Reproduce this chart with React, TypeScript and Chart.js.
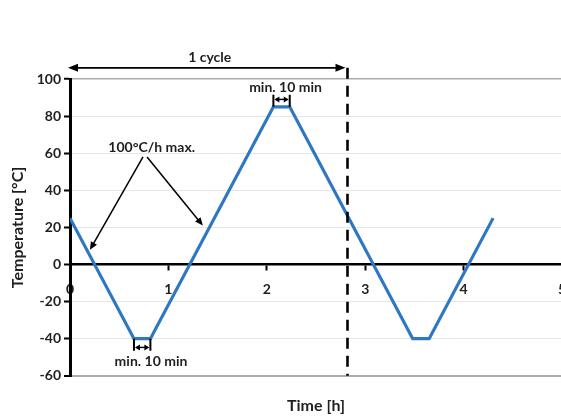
import { useEffect, useRef } from 'react';
import { Chart, registerables } from 'chart.js';

Chart.register(...registerables);

// Temperature profile (time in hours, temperature in °C)
const timeHours = [0, 0.65, 0.817, 2.067, 2.233, 3.483, 3.65, 4.3];
const temperatures = [25, -40, -40, 85, 85, -40, -40, 25];

// Axis ranges / ticks
const xRange = [0, 5];
const yRange = [-60, 100];
const xStep = 1;
const yStep = 20;

// Annotations (data units)
const cycleEnd = 2.82;
const cycleArrowTemp = 106;
const cycleLabel = '1 cycle';
const cycleLabelPos = [1.42, 111.5];

const rateLabel = '100°C/h max.';
const rateLabelPos = [0.83, 63];
const rateArrows = [
  [0.742, 58, 0.203, 7.9],
  [0.783, 58, 1.35, 21],
];

const dwellLabel = 'min. 10 min';
// [from, to, base temp, bar end temp, arrow temp, label x, label temp]
const dwellTop = [2.067, 2.233, 85, 91.5, 89, 2.19, 95.4];
const dwellBottom = [0.65, 0.817, -40, -46.5, -44.7, 0.823, -52.3];

const FONT = 'Lato, "Noto Sans", sans-serif';
const TEXT = '#1f1f1f';

function arrowHead(ctx: CanvasRenderingContext2D, fx: number, fy: number, tx: number, ty: number, len: number, half: number) {
  const a = Math.atan2(ty - fy, tx - fx);
  const c = Math.cos(a), s = Math.sin(a);
  ctx.beginPath();
  ctx.moveTo(tx, ty);
  ctx.lineTo(tx - len * c + half * s, ty - len * s - half * c);
  ctx.lineTo(tx - len * c - half * s, ty - len * s + half * c);
  ctx.closePath();
  ctx.fill();
}

function arrow(ctx: CanvasRenderingContext2D, fx: number, fy: number, tx: number, ty: number, lw: number, len: number, half: number) {
  const a = Math.atan2(ty - fy, tx - fx);
  ctx.lineWidth = lw;
  ctx.beginPath();
  ctx.moveTo(fx, fy);
  ctx.lineTo(tx - len * 0.7 * Math.cos(a), ty - len * 0.7 * Math.sin(a));
  ctx.stroke();
  arrowHead(ctx, fx, fy, tx, ty, len, half);
}

const annotationPlugin = {
  id: 'profileAnnotations',
  afterDraw(chart: any) {
    const { ctx, scales } = chart;
    const px = (v: number) => scales.x.getPixelForValue(v);
    const py = (v: number) => scales.y.getPixelForValue(v);
    ctx.save();
    ctx.strokeStyle = '#000';
    ctx.fillStyle = '#000';

    // dashed cycle line
    ctx.lineWidth = 2.6;
    ctx.setLineDash([11, 7]);
    ctx.beginPath();
    ctx.moveTo(px(cycleEnd), py(cycleArrowTemp));
    ctx.lineTo(px(cycleEnd), py(yRange[0]));
    ctx.stroke();
    ctx.setLineDash([]);

    // 1 cycle double arrow
    const ya = py(cycleArrowTemp);
    const x0 = px(0) - 2;
    const x1 = px(cycleEnd) - 2;
    ctx.lineWidth = 1.8;
    ctx.beginPath();
    ctx.moveTo(x0 + 6, ya);
    ctx.lineTo(x1 - 6, ya);
    ctx.stroke();
    arrowHead(ctx, x1, ya, x0, ya, 10, 4);
    arrowHead(ctx, x0, ya, x1, ya, 10, 4);

    ctx.font = `bold 14px ${FONT}`;
    ctx.fillStyle = TEXT;
    ctx.textAlign = 'center';
    ctx.textBaseline = 'middle';
    ctx.fillText(cycleLabel, px(cycleLabelPos[0]), py(cycleLabelPos[1]));
    ctx.fillText(rateLabel, px(rateLabelPos[0]), py(rateLabelPos[1]));

    // rate arrows
    ctx.fillStyle = '#000';
    for (const [fx, fy, tx, ty] of rateArrows) {
      arrow(ctx, px(fx), py(fy), px(tx), py(ty), 1.5, 8, 3.5);
    }

    // dwell markers
    for (const d of [dwellTop, dwellBottom]) {
      const [from, to, base, barEnd, arrowT, lx, lt] = d;
      const xa = px(from), xb = px(to);
      ctx.strokeStyle = '#000';
      ctx.fillStyle = '#000';
      ctx.lineWidth = 2;
      ctx.beginPath();
      ctx.moveTo(xa, py(base));
      ctx.lineTo(xa, py(barEnd));
      ctx.moveTo(xb, py(base));
      ctx.lineTo(xb, py(barEnd));
      ctx.stroke();
      const yy = py(arrowT);
      ctx.lineWidth = 1.4;
      ctx.beginPath();
      ctx.moveTo(xa + 3, yy);
      ctx.lineTo(xb - 3, yy);
      ctx.stroke();
      arrowHead(ctx, xb, yy, xa + 1, yy, 5, 3);
      arrowHead(ctx, xa, yy, xb - 1, yy, 5, 3);
      ctx.fillStyle = TEXT;
      ctx.font = `bold 14px ${FONT}`;
      ctx.fillText(dwellLabel, px(lx), py(lt));
    }
    ctx.restore();
  },
};

export default function App() {
  const ref = useRef<HTMLCanvasElement | null>(null);
  useEffect(() => {
    if (!ref.current) return;
    const chart = new Chart(ref.current, {
      type: 'line',
      data: {
        datasets: [
          {
            data: timeHours.map((t, i) => ({ x: t, y: temperatures[i] })),
            borderColor: '#2E78C2',
            borderWidth: 3.2,
            pointRadius: 0,
            tension: 0,
            borderJoinStyle: 'miter',
            fill: false,
          },
        ],
      },
      options: {
        responsive: false,
        animation: false,
        layout: { padding: { top: 79, right: 38, left: 0, bottom: 0 } },
        plugins: {
          legend: { display: false },
          tooltip: { enabled: false },
          title: {
            display: true,
            text: 'Time [h]',
            position: 'bottom',
            fullSize: false,
            color: TEXT,
            font: { family: FONT, size: 16, weight: 'bold' },
            padding: { top: 20.5, bottom: 3.5 },
          },
        },
        scales: {
          x: {
            type: 'linear',
            position: { y: 0 },
            min: xRange[0],
            max: xRange[1],
            ticks: {
              stepSize: xStep,
              color: TEXT,
              padding: 12,
              font: { family: FONT, size: 14, weight: 'bold' },
              maxRotation: 0,
            },
            grid: {
              drawOnChartArea: false,
              drawTicks: true,
              tickLength: 5,
              tickColor: '#000',
              tickWidth: 2,
            },
            border: { display: true, color: '#000', width: 2.5 },
          },
          y: {
            type: 'linear',
            min: yRange[0],
            max: yRange[1],
            afterFit: (scale: any) => {
              scale.width = 70;
            },
            ticks: {
              stepSize: yStep,
              color: TEXT,
              padding: 3,
              font: { family: FONT, size: 14, weight: 'bold' },
            },
            grid: {
              color: (c: any) => {
                const v = c.tick ? c.tick.value : null;
                if (v === 0) return 'rgba(0,0,0,0)';
                if (v === yRange[0] || v === yRange[1]) return '#ababab';
                return '#e6e6e6';
              },
              lineWidth: (c: any) => {
                const v = c.tick ? c.tick.value : null;
                if (v === yRange[0]) return 2;
                if (v === yRange[1]) return 1.5;
                return 1;
              },
              tickLength: 6,
              tickColor: '#000',
              tickWidth: 2,
            },
            border: { display: true, color: '#000', width: 3 },
            title: {
              display: true,
              text: 'Temperature [°C]',
              color: TEXT,
              font: { family: FONT, size: 16, weight: 'bold' },
              padding: { top: 8, bottom: 0 },
            },
          },
        },
      } as any,
      plugins: [annotationPlugin],
    });
    return () => chart.destroy();
  }, []);

  return (
    <div style={{ position: 'fixed', left: 0, top: 0, width: 561, height: 419, overflow: 'hidden', background: '#fff' }}>
      <canvas ref={ref} width={600} height={419} style={{ display: 'block' }} />
    </div>
  );
}
